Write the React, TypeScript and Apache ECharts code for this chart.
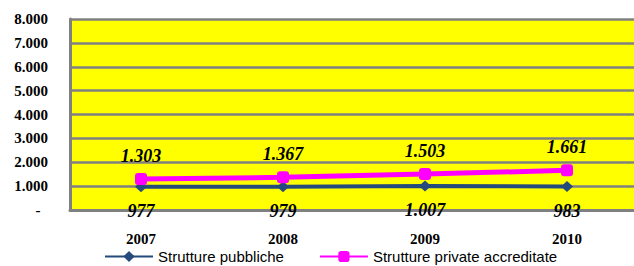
import React, { useEffect, useRef } from "react";
import * as echarts from "echarts";

const years = ["2007", "2008", "2009", "2010"];
const pubbliche = [977, 979, 1007, 983];
const private_ = [1303, 1367, 1503, 1661];
const seriesNames = ["Strutture pubbliche", "Strutture private accreditate"];

const fmt = (v: number) => String(Math.round(v)).replace(/\B(?=(\d{3})+(?!\d))/g, ".");

export default function App() {
  const ref = useRef<HTMLDivElement>(null);
  useEffect(() => {
    if (!ref.current) return;
    const chart = echarts.init(ref.current, null, { renderer: "svg" });
    const serif = "Liberation Serif";
    chart.setOption({
      animation: false,
      backgroundColor: "#ffffff",
      grid: {
        left: 70,
        top: 19,
        right: 2,
        bottom: 56,
        show: true,
        backgroundColor: "#ffff00",
        borderWidth: 0,
      },
      legend: {
        left: 99,
        top: 244,
        padding: 5,
        itemGap: 35,
        itemWidth: 48,
        itemHeight: 14,
        data: seriesNames,
        textStyle: { fontFamily: "Liberation Sans", fontSize: 15, color: "#000" },
      },
      xAxis: {
        type: "category",
        data: years,
        axisLine: { show: true, lineStyle: { color: "#808080", width: 3 } },
        axisTick: { show: false },
        axisLabel: { margin: 21, fontFamily: serif, fontWeight: "bold", fontSize: 15, color: "#000" },
      },
      yAxis: {
        type: "value",
        min: 0,
        max: 8000,
        interval: 1000,
        axisLine: { show: true, lineStyle: { color: "#808080", width: 3 } },
        axisTick: { show: false },
        splitLine: { show: true, lineStyle: { color: "#808080", width: 2.5 } },
        axisLabel: {
          margin: 22,
          fontFamily: serif,
          fontWeight: "bold",
          fontSize: 15,
          color: "#000",
          formatter: (v: number) => (v === 0 ? "-\u2002" : fmt(v)),
        },
      },
      series: [
        {
          name: seriesNames[0],
          type: "line",
          data: pubbliche,
          color: "#254A7C",
          lineStyle: { width: 4, color: "#254A7C" },
          symbol: "diamond",
          symbolSize: [12, 11],
          itemStyle: { color: "#254A7C" },
          label: {
            show: true,
            position: "bottom",
            distance: 10,
            formatter: (p: any) => fmt(p.value),
            fontFamily: serif,
            fontWeight: "bold",
            fontStyle: "italic",
            fontSize: 18,
            color: "#000",
          },
          z: 3,
        },
        {
          name: seriesNames[1],
          type: "line",
          data: private_,
          color: "#FF00FF",
          lineStyle: { width: 5, color: "#FF00FF" },
          symbol: "roundRect",
          symbolSize: 12,
          itemStyle: { color: "#FF00FF" },
          label: {
            show: true,
            position: "top",
            distance: 8,
            formatter: (p: any) => fmt(p.value),
            fontFamily: serif,
            fontWeight: "bold",
            fontStyle: "italic",
            fontSize: 18,
            color: "#000",
          },
          z: 4,
        },
      ],
    });
    return () => chart.dispose();
  }, []);
  return (
    <div style={{ position: "fixed", left: 0, top: 0, width: 634, height: 266, overflow: "hidden", background: "#fff" }}>
      <div ref={ref} style={{ width: 640, height: 266 }} />
    </div>
  );
}
